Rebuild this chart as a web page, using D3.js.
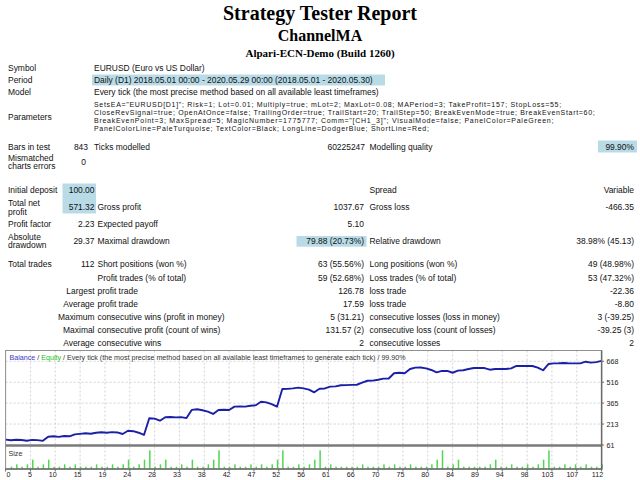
<!DOCTYPE html>
<html><head><meta charset="utf-8">
<script src="https://cdn.jsdelivr.net/npm/d3@7"></script>
<style>body{margin:0;background:#fff}svg{display:block}</style>
</head><body><svg id="c" width="640" height="480"></svg>
<script>
// ---------- DATA ----------
const balance = [100,95,99,97,92,98,96,91,121,124,
 120,126,124,138,142,146,143,150,153,150,
 154,152,141,164,161,150,134,255,252,237,
 262,264,261,263,256,316,320,313,303,286,
 315,317,315,339,341,339,346,349,375,370,
 358,339,467,468,472,477,472,463,443,469,
 471,484,486,494,495,497,498,513,527,528,
 534,542,543,581,585,581,612,622,623,617,
 605,588,598,598,585,600,603,612,619,619,
 619,607,612,612,612,617,634,634,634,634,
 622,603,648,653,654,656,653,653,653,665,
 658,662,671.32];
// lot size of trades 1..112
const lotSizes = [.01,.02,.01,.02,.04,.01,.02,.04,.01,.01,
 .02,.01,.02,.01,.01,.01,.02,.01,.01,.02,
 .01,.02,.04,.01,.02,.04,.08,.01,.02,.04,
 .01,.01,.02,.01,.04,.01,.01,.02,.04,.08,
 .01,.01,.02,.01,.01,.02,.01,.02,.01,.02,
 .04,.08,.01,.01,.02,.01,.02,.04,.08,.01,
 .02,.01,.01,.01,.01,.01,.02,.01,.01,.01,
 .02,.01,.02,.01,.01,.02,.01,.01,.01,.02,
 .04,.08,.01,.02,.04,.01,.01,.01,.01,.01,
 .02,.04,.01,.01,.02,.01,.01,.02,.01,.02,
 .04,.08,.01,.01,.02,.01,.02,.01,.02,.01,
 .01,.02];
const xTickLabels = [0,5,10,15,19,24,28,33,38,42,47,52,56,61,66,70,75,80,84,89,94,98,103,107,112];
const yTickLabels = [61,213,365,516,668];
const titleLines = ["Strategy Tester Report","ChannelMA","Alpari-ECN-Demo (Build 1260)"];
const summaryRows = [
 ["Symbol","EURUSD (Euro vs US Dollar)"],
 ["Period","Daily (D1) 2018.05.01 00:00 - 2020.05.29 00:00 (2018.05.01 - 2020.05.30)"],
 ["Model","Every tick (the most precise method based on all available least timeframes)"]
];
const parameterLines = [
 'SetsEA="EURUSD[D1]"; Risk=1; Lot=0.01; Multiply=true; mLot=2; MaxLot=0.08; MAPeriod=3; TakeProfit=157; StopLoss=55;',
 'CloseRevSignal=true; OpenAtOnce=false; TrailingOrder=true; TrailStart=20; TrailStep=50; BreakEvenMode=true; BreakEvenStart=60;',
 'BreakEvenPoint=3; MaxSpread=5; MagicNumber=1775777; Comm="[CH1_3]"; VisualMode=false; PanelColor=PaleGreen;',
 'PanelColorLine=PaleTurquoise; TextColor=Black; LongLine=DodgerBlue; ShortLine=Red;'
];
const barsRow = ["Bars in test","843","Ticks modelled","60225247","Modelling quality","99.90%"];
const mismatchRow = [["Mismatched","charts errors"],"0"];
const statsRows = [
 [["Initial deposit"],"100.00","","","Spread","Variable"],
 [["Total net","profit"],"571.32","Gross profit","1037.67","Gross loss","-466.35"],
 [["Profit factor"],"2.23","Expected payoff","5.10","",""],
 [["Absolute","drawdown"],"29.37","Maximal drawdown","79.88 (20.73%)","Relative drawdown","38.98% (45.13)"],
 [["Total trades"],"112","Short positions (won %)","63 (55.56%)","Long positions (won %)","49 (48.98%)"],
 [[""],"","Profit trades (% of total)","59 (52.68%)","Loss trades (% of total)","53 (47.32%)"],
 [[""],"Largest","profit trade","126.78","loss trade","-22.36"],
 [[""],"Average","profit trade","17.59","loss trade","-8.80"],
 [[""],"Maximum","consecutive wins (profit in money)","5 (31.21)","consecutive losses (loss in money)","3 (-39.25)"],
 [[""],"Maximal","consecutive profit (count of wins)","131.57 (2)","consecutive loss (count of losses)","-39.25 (3)"],
 [[""],"Average","consecutive wins","2","consecutive losses","2"]
];
const legendParts = [["Balance","#3a3ac8"],[" / ","#333"],["Equity","#22c022"],[" / Every tick (the most precise method based on all available least timeframes to generate each tick) / 99.90%","#333"]];

// ---------- LAYOUT ----------
const svg = d3.select("#c");
svg.append("rect").attr("width",640).attr("height",480).attr("fill","#fff");
const SANS = "'Liberation Sans', Arial, sans-serif";
const SERIF = "'Liberation Serif', 'Times New Roman', serif";

function measure(text, family, weight, size){
  const t = svg.append("text").attr("font-family",family).attr("font-weight",weight).attr("font-size",size).text(text);
  const w = t.node().getComputedTextLength(); t.remove();
  return w;
}
function fit(text, family, weight, target){ return 100*target/measure(text,family,weight,100); }
const fsT = fit(summaryRows[2][1], SANS, "normal", 285);
const fsP = Math.min(fsT, fit(parameterLines[1], SANS, "normal", 510));
const fsC = fit(legendParts.map(d=>d[0]).join(""), SANS, "normal", 397);

// titles
[[20,20],[41,16],[57,11]].forEach((p,i)=>{
  svg.append("text").attr("x",320).attr("y",p[0]).attr("text-anchor","middle")
   .attr("font-family",SERIF).attr("font-weight","bold").attr("font-size",p[1]).attr("fill","#000").text(titleLines[i]);
});

const HL = "#b9dbe7";
function txt(x,yc,s,anchor,fs){
  if(!s) return null;
  fs = fs||fsT;
  return svg.append("text").attr("x",x).attr("y",yc+fs*0.36).attr("text-anchor",anchor||"start")
   .attr("font-family",SANS).attr("font-size",fs).attr("fill","#111").text(s);
}
// summary table
svg.append("rect").attr("x",92).attr("y",74.5).attr("width",293).attr("height",11).attr("fill",HL);
[68.3,80,91.7].forEach((y,i)=>{ txt(8,y,summaryRows[i][0]); txt(94,y,summaryRows[i][1]); });
txt(8,116.5,"Parameters");
const fsPs = 7.0;
[104.6,112.6,120.6,128.6].forEach((y,i)=>{
  const w = measure(parameterLines[i], SANS, "normal", fsP);
  txt(94,y,parameterLines[i],"start",fsPs).attr("textLength",w).attr("lengthAdjust","spacing");
});
const yBars = 146.5;
svg.append("rect").attr("x",598).attr("y",yBars-6).attr("width",39).attr("height",12).attr("fill",HL);
txt(8,yBars,barsRow[0]); txt(88,yBars,barsRow[1],"end"); txt(94,yBars,barsRow[2]);
txt(365,yBars,barsRow[3],"end"); txt(369.5,yBars,barsRow[4]); txt(634,yBars,barsRow[5],"end");
txt(8,157.7,mismatchRow[0][0]); txt(8,166.4,mismatchRow[0][1]); txt(86,162,mismatchRow[1],"end");

// stats table
svg.append("rect").attr("x",62.5).attr("y",183.5).attr("width",33.5).attr("height",30).attr("fill",HL);
svg.append("rect").attr("x",296.5).attr("y",236).attr("width",70).attr("height",10.7).attr("fill",HL);
const statY = [190,207.3,224.3,241,264.3,277.7,291,304,317.3,330,343.3];
statsRows.forEach((r,i)=>{
  const y = statY[i];
  if(r[0].length===2){ txt(8,y-4.4,r[0][0]); txt(8,y+4.4,r[0][1]); } else txt(8,y,r[0][0]);
  txt(94.5,y,r[1],"end"); txt(97.5,y,r[2]); txt(364,y,r[3],"end"); txt(369.5,y,r[4]); txt(634,y,r[5],"end");
});

// ---------- CHART ----------
const L=5.6, R=601.6, T=350.5, SEP=445.5, B=469;
const x = d3.scaleLinear().domain([0, balance.length-1]).range([L,R]);
const y = d3.scaleLinear().domain([yTickLabels[0], yTickLabels[yTickLabels.length-1]]).range([445,361.3]);
const ys = d3.scaleLinear().domain([0,0.09]).range([B,B-21]);
const g = svg.append("g");
g.append("rect").attr("x",L).attr("y",T).attr("width",R-L).attr("height",B-T).attr("fill","#fff");

const nT = xTickLabels.length;
const tickPos = xTickLabels.map((d,k)=> x(k*(balance.length-1)/(nT-1)));
// vertical grid
tickPos.forEach(px=>{
  g.append("line").attr("x1",px).attr("x2",px).attr("y1",T).attr("y2",B)
   .attr("stroke","#c8c8c8").attr("stroke-width",0.8).attr("stroke-dasharray","2,2");
});
// horizontal grid (main)
yTickLabels.slice(1).forEach(v=>{
  g.append("line").attr("x1",L).attr("x2",R).attr("y1",y(v)).attr("y2",y(v))
   .attr("stroke","#c8c8c8").attr("stroke-width",0.8).attr("stroke-dasharray","2,2");
});
// size bars
g.selectAll("rect.bar").data(lotSizes).enter().append("rect").attr("class","bar")
 .attr("x",(d,i)=>x(i+1)-0.2).attr("width",1.5)
 .attr("y",d=>ys(d)).attr("height",d=>B-ys(d)).attr("fill","#4fd84f");
// balance line
g.append("path").datum(balance)
 .attr("d", d3.line().x((d,i)=>x(i)).y(d=>y(d)))
 .attr("fill","none").attr("stroke","#1a1fa8").attr("stroke-width",1.9).attr("stroke-linejoin","round");

// frame
g.append("rect").attr("x",L).attr("y",T).attr("width",R-L).attr("height",B-T)
 .attr("fill","none").attr("stroke","#909090").attr("stroke-width",1);
g.append("line").attr("x1",L).attr("x2",R).attr("y1",SEP).attr("y2",SEP).attr("stroke","#7a7a7a").attr("stroke-width",2.5);
g.append("line").attr("x1",R).attr("x2",R).attr("y1",T).attr("y2",B+1).attr("stroke","#6a6a6a").attr("stroke-width",1.5);
g.append("line").attr("x1",L).attr("x2",R).attr("y1",B).attr("y2",B).attr("stroke","#6a6a6a").attr("stroke-width",1.3);

// legend
const lg = g.append("text").attr("x",9.5).attr("y",357.5+fsC*0.36).attr("font-family",SANS).attr("font-size",fsC);
legendParts.forEach(p=> lg.append("tspan").attr("fill",p[1]).text(p[0]));
g.append("text").attr("x",8.5).attr("y",453.5+fsC*0.36).attr("font-family",SANS).attr("font-size",fsC).attr("fill","#333").text("Size");

// x axis
tickPos.forEach((px,k)=>{
  g.append("line").attr("x1",px).attr("x2",px).attr("y1",B).attr("y2",B+2.5).attr("stroke","#6a6a6a").attr("stroke-width",1);
  g.append("text").attr("x",k===0?6.5:px+1.5).attr("y",474+fsC*0.38).attr("text-anchor",k===0?"start":"end")
   .attr("font-family",SANS).attr("font-size",fsC).attr("fill","#222").text(xTickLabels[k]);
});
// y axis labels
yTickLabels.forEach(v=>{
  g.append("line").attr("x1",R).attr("x2",R+2.5).attr("y1",y(v)).attr("y2",y(v)).attr("stroke","#6a6a6a");
  g.append("text").attr("x",606.5).attr("y",y(v)+fsC*0.36).attr("font-family",SANS).attr("font-size",fsC).attr("fill","#222").text(v);
});
</script></body></html>
